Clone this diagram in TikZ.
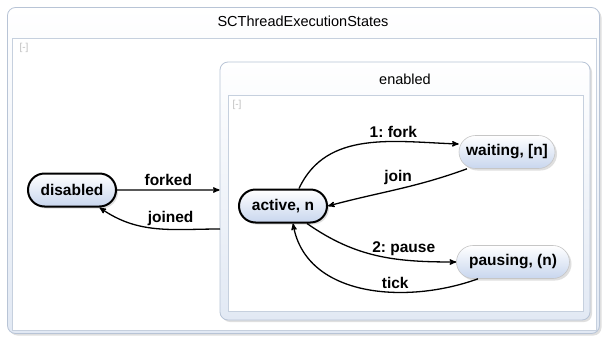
\documentclass[tikz,border=0pt]{standalone}
\usepackage{fontspec}
\setmainfont{Liberation Sans}
\usetikzlibrary{arrows,shapes.misc,shadows}

\definecolor{framefill}{RGB}{226,233,244}
\definecolor{frameline}{RGB}{184,196,214}
\definecolor{statefill}{RGB}{200,214,238}

\frenchspacing
\begin{document}
\begin{tikzpicture}[->,>=stealth',x=1pt,y=-1pt,line width=1.3pt,
        font=\fontsize{14.5}{17}\selectfont]
        \tikzstyle{frame}=[draw=frameline,line width=0.8pt,rounded corners=8pt,
          top color=white,bottom color=framefill,
          drop shadow={opacity=0.25,shadow xshift=2pt,shadow yshift=-2pt}]
        \tikzstyle{pane}=[draw=frameline!80,line width=0.6pt,fill=white]
        \tikzstyle{state}=[rounded rectangle,top color=white,bottom color=statefill,
          font=\fontsize{15.5}{18}\selectfont\bfseries,minimum height=33pt,inner xsep=8pt,
          draw=gray!45,line width=0.6pt,
          drop shadow={opacity=0.25,shadow xshift=2pt,shadow yshift=-2pt}]
        \tikzstyle{initial}=[draw=black,line width=2pt]
        \tikzstyle{collapse}=[text=gray!50,font=\fontsize{10}{11}\selectfont]
  \useasboundingbox (0,0) rectangle (606,338);

  % outer region
  \node[frame,minimum width=592pt,minimum height=326pt] (outer) at (303.5,170.5) {};
  \node (title) at (303,21) {SCThreadExecutionStates};
  \node[pane,minimum width=584pt,minimum height=292pt] (outerpane) at (304,184.5) {};
  \node[collapse] (outerx) at (24,48) {[-]};

  % enabled region
  \node[frame,minimum width=370pt,minimum height=258pt] (enabled) at (405,191) {};
  \node (entitle) at (405,79) {enabled};
  \node[pane,minimum width=355pt,minimum height=216pt] (enpane) at (405.5,203) {};
  \node[collapse] (enx) at (237,105) {[-]};

  \node[state,initial,minimum width=104pt] (disabled) at (72,190) {disabled};
  \node[state,initial,minimum width=104pt] (active) at (283,206) {active, n};
  \node[state,minimum width=112pt] (waiting) at (507,152) {waiting, [n]};
  \node[state,minimum width=129pt] (pausing) at (513,262) {pausing, (n)};
  \coordinate (back) at (220,229);

  \tikzstyle{every node}=[font=\fontsize{15.5}{18}\selectfont\bfseries]
  \path (disabled) edge node[above] {forked} (disabled -| enabled.west)
        (back) edge[out=180,in=-35] node[above,pos=0.38] {joined} (disabled.south east)
        (active.north) ++(16,0) edge[out=65,in=178] node[above,pos=0.66] {1: fork} ([yshift=8pt]waiting.west)
        ([xshift=-40pt]waiting.south) edge[out=-160,in=15] node[above,pos=0.5] {join} (active.east)
        ([xshift=24pt]active.south) edge[out=-35,in=180] node[above,pos=0.68] {2: pause} (pausing.west)
        ([xshift=-35pt]pausing.south) edge[out=-160,in=-80] node[above,pos=0.36] {tick} ([xshift=10pt]active.south);

\end{tikzpicture}
\end{document}
